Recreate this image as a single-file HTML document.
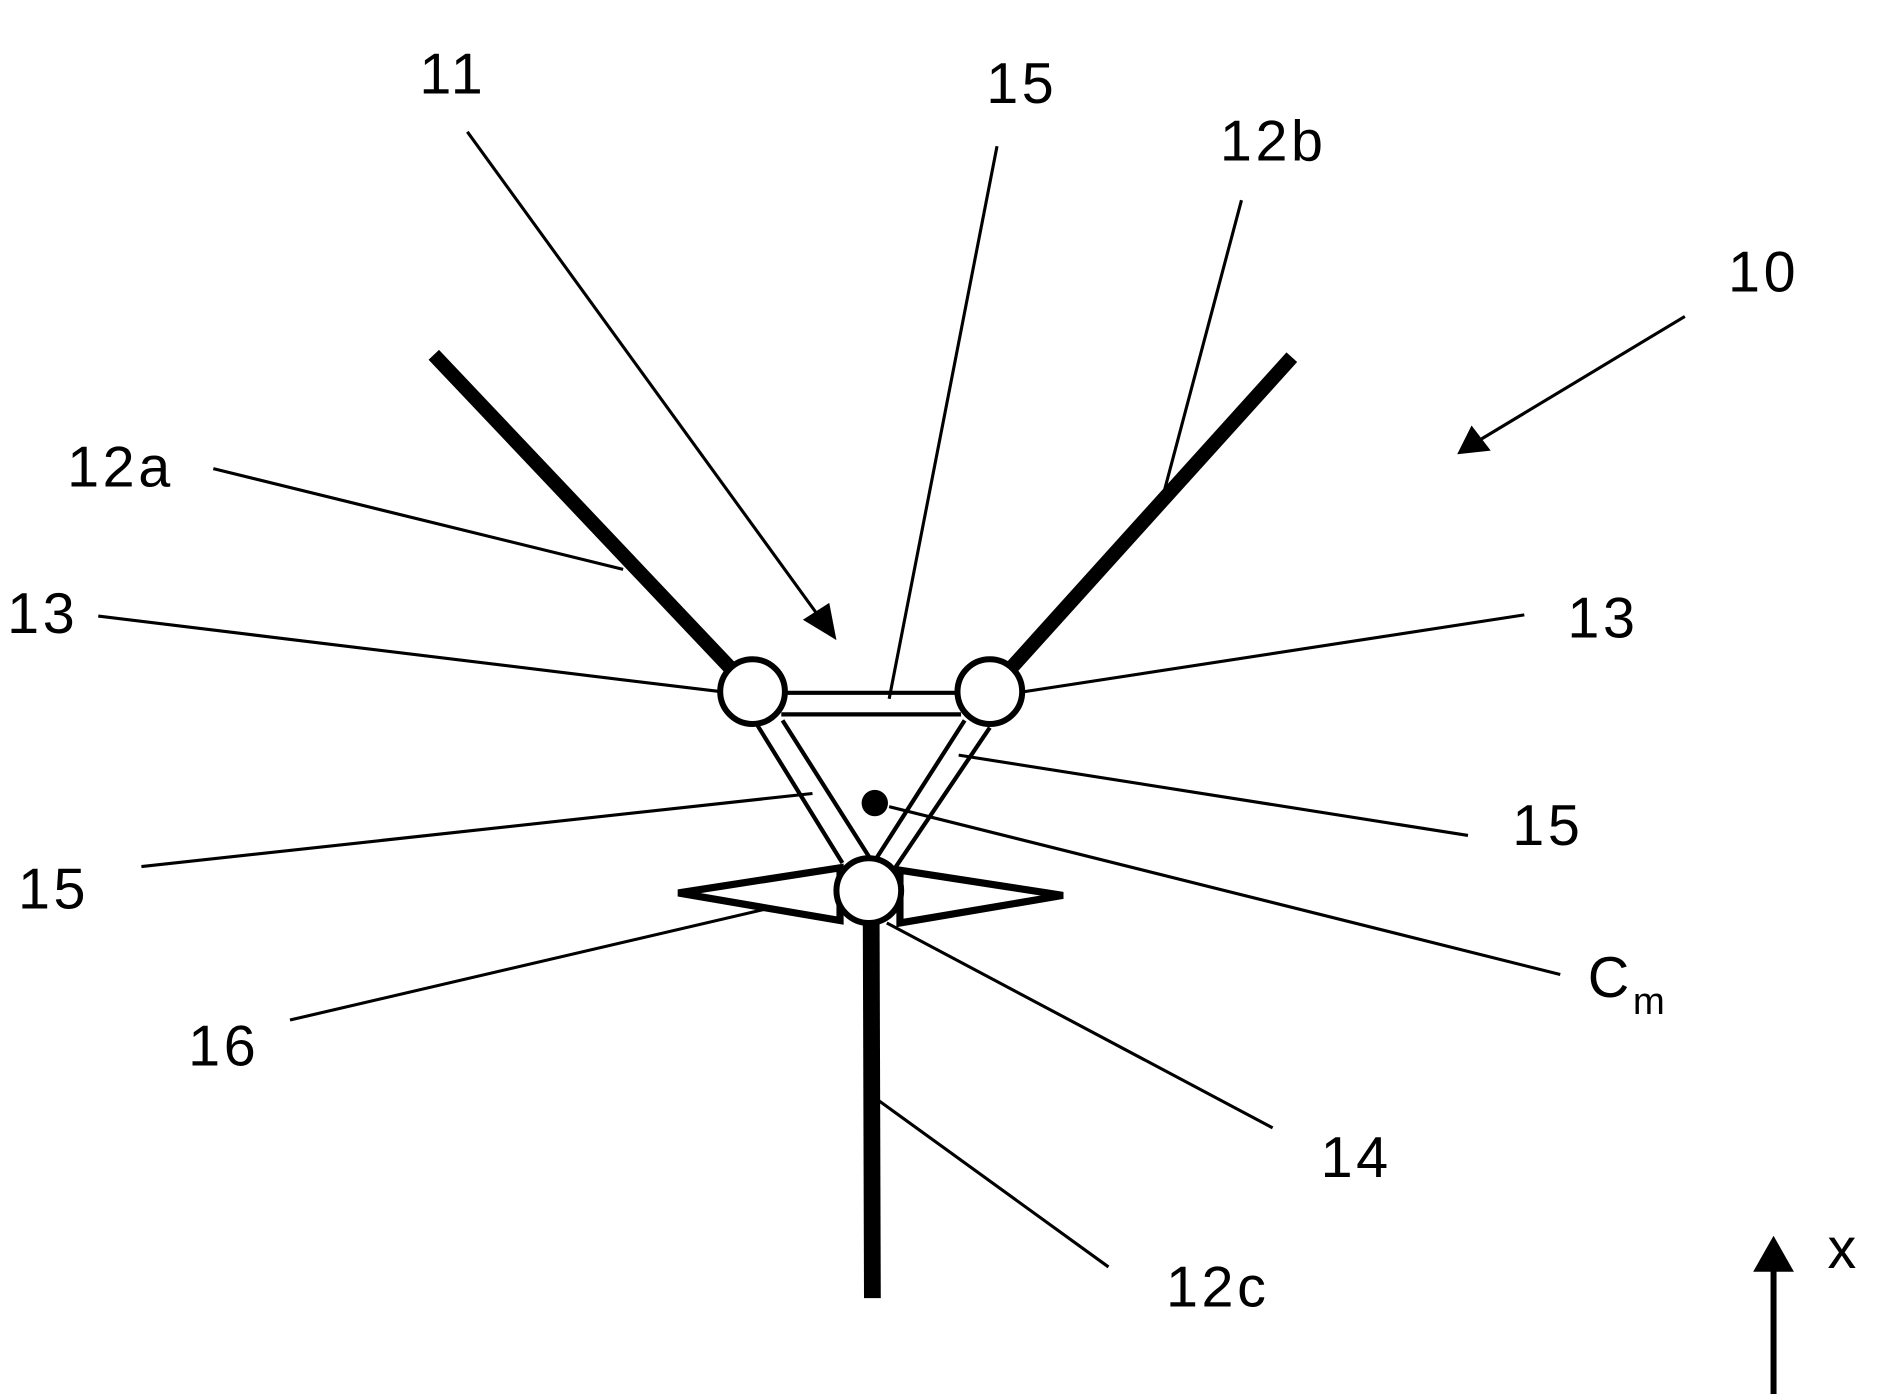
<!DOCTYPE html>
<html><head><style>html,body{margin:0;padding:0;background:#fff;}svg{display:block}</style></head>
<body>
<svg width="1879" height="1394" viewBox="0 0 1568 1163" preserveAspectRatio="none" xmlns="http://www.w3.org/2000/svg">
<rect width="1568" height="1163" fill="#fff"/>
<g stroke="#000" stroke-width="2.6" fill="none">
<line x1="390" y1="110" x2="686" y2="518"/>
<line x1="832" y1="122" x2="742" y2="583"/>
<line x1="1036" y1="167" x2="972" y2="408"/>
<line x1="1406" y1="264" x2="1235" y2="367"/>
<line x1="178" y1="391" x2="520" y2="475"/>
<line x1="82" y1="514" x2="601" y2="577"/>
<line x1="1272" y1="513" x2="855" y2="577"/>
<line x1="1225" y1="697" x2="800" y2="630"/>
<line x1="118" y1="723" x2="678" y2="662"/>
<line x1="1302" y1="813" x2="742" y2="673"/>
<line x1="242" y1="851" x2="645" y2="757"/>
<line x1="1062" y1="941" x2="740" y2="770"/>
<line x1="925" y1="1057" x2="733" y2="918"/>
</g>
<polygon points="698,534 670,517 692,503" fill="#000"/>
<polygon points="1216,379 1228,355 1244,376" fill="#000"/>
<g stroke="#000" stroke-linecap="butt">
<line x1="362" y1="296" x2="612" y2="560" stroke-width="12"/>
<line x1="1078" y1="298" x2="845" y2="556" stroke-width="12"/>
<line x1="727" y1="770" x2="728" y2="1083" stroke-width="14"/>
</g>
<g stroke="#000" stroke-width="3.5">
<line x1="652" y1="578" x2="802" y2="578"/>
<line x1="652" y1="596" x2="802" y2="596"/>
<line x1="632" y1="605" x2="703" y2="720"/>
<line x1="653" y1="601" x2="726" y2="716"/>
<line x1="805" y1="601" x2="732" y2="715"/>
<line x1="826" y1="607" x2="747" y2="724"/>
</g>
<polygon points="566,745 701,724 701,768" fill="#fff" stroke="#000" stroke-width="6" stroke-linejoin="miter"/>
<polygon points="887,747 751,726 751,770" fill="#fff" stroke="#000" stroke-width="6" stroke-linejoin="miter"/>
<g fill="#fff" stroke="#000" stroke-width="5">
<circle cx="628" cy="577" r="27"/>
<circle cx="826" cy="577" r="27"/>
<circle cx="725" cy="743" r="27"/>
</g>
<circle cx="730" cy="670" r="11" fill="#000"/>
<line x1="1480" y1="1163" x2="1480" y2="1055" stroke="#000" stroke-width="5"/>
<polygon points="1480,1031 1463,1061 1497,1061" fill="#000"/>
<g font-family="Liberation Sans, sans-serif" font-size="48" fill="#000" letter-spacing="3">
<text x="350" y="78">11</text>
<text x="823" y="86">15</text>
<text x="1018" y="134">12b</text>
<text x="1442" y="243">10</text>
<text x="56" y="406">12a</text>
<text x="6" y="528">13</text>
<text x="1308" y="532">13</text>
<text x="1262" y="705">15</text>
<text x="15" y="758">15</text>
<text x="1325" y="832">C<tspan font-size="32" dy="14">m</tspan></text>
<text x="157" y="889">16</text>
<text x="1102" y="982">14</text>
<text x="973" y="1090">12c</text>
<text x="1525" y="1058">x</text>
</g>
</svg>
</body></html>
